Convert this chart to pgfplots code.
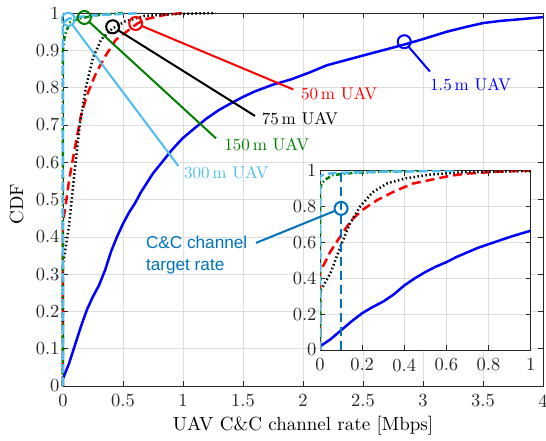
\documentclass[border=0pt]{standalone}
\usepackage{fontspec}
\setmainfont{lmroman10-regular.otf}
\usepackage{pgfplots}
\usepackage{pgfplotstable}
\pgfplotsset{compat=1.18}
\newfontfamily\sansf{Liberation Sans}

\definecolor{mgreen}{rgb}{0,0.5,0}
\definecolor{mcyan}{rgb}{0.301,0.745,0.933}
\definecolor{mblue}{rgb}{0,0.447,0.741}
\definecolor{gridc}{rgb}{0.87,0.87,0.87}
\definecolor{axc}{rgb}{0.15,0.15,0.15}

% CDF curves
\pgfplotstableread{
x y
0 0.02
0.05 0.06
0.1 0.11
0.15 0.16
0.2 0.205
0.25 0.24
0.3 0.27
0.35 0.31
0.4 0.36
0.45 0.40
0.5 0.435
0.55 0.465
0.6 0.49
0.65 0.52
0.7 0.545
0.75 0.57
0.8 0.59
0.85 0.61
0.9 0.63
0.95 0.648
1.0 0.665
1.1 0.692
1.2 0.718
1.3 0.74
1.4 0.758
1.5 0.775
1.6 0.79
1.75 0.808
1.9 0.822
2.05 0.84
2.2 0.86
2.35 0.873
2.5 0.886
2.7 0.903
2.85 0.916
3.0 0.93
3.2 0.95
3.35 0.962
3.5 0.973
3.65 0.979
3.8 0.983
3.9 0.986
4.0 0.989
}\uavA

\pgfplotstableread{
x y
0 0
0 0.44
0.02 0.48
0.05 0.55
0.1 0.64
0.15 0.725
0.2 0.78
0.27 0.835
0.35 0.883
0.44 0.928
0.55 0.955
0.62 0.972
0.7 0.984
0.85 0.995
1.0 1.0
}\uavB

\pgfplotstableread{
x y
0 0
0 0.33
0.01 0.345
0.05 0.43
0.1 0.585
0.14 0.70
0.19 0.80
0.25 0.88
0.32 0.93
0.41 0.958
0.52 0.978
0.68 0.992
0.9 0.997
1.27 1.0
}\uavC

\pgfplotstableread{
x y
0 0
0 0.9
0.01 0.93
0.025 0.95
0.06 0.975
0.13 0.985
0.18 0.988
0.3 0.995
0.5 1.0
}\uavD

\pgfplotstableread{
x y
0 0
0 0.97
0.02 0.979
0.05 0.985
0.15 0.99
0.3 0.995
0.6 0.999
0.65 1.0
}\uavE

\pgfplotsset{
  mat/.style={
    scale only axis,
    axis line style={axc, line width=0.6pt},
    tick style={axc, line width=0.6pt},
    tick align=inside,
    major tick length=5pt,
    grid=major,
    major grid style={gridc, line width=0.6pt},
    ticklabel style={font=\fontsize{18.5}{22}\selectfont, text=axc},
    xticklabel style={yshift=-5pt},
    /pgf/number format/assume math mode=true,
  },
  cA/.style={blue, line width=2.5pt},
  cB/.style={red, line width=2.5pt, dash pattern=on 9pt off 5pt},
  cC/.style={black, line width=2.5pt, dash pattern=on 1.5pt off 2.5pt},
  cD/.style={mgreen, line width=2.5pt, dash pattern=on 5pt off 2.5pt on 1.5pt off 2.5pt},
  cE/.style={mcyan, line width=2.5pt, dash pattern=on 9pt off 4pt},
}

\begin{document}
\begin{tikzpicture}
\useasboundingbox (-63pt,-54pt) rectangle (483pt,386pt);
\begin{axis}[
  mat,
  width=480pt, height=373pt,
  xmin=0, xmax=4, ymin=0, ymax=1,
  xtick={0,0.5,...,4},
  ytick={0,0.1,...,1},
  xlabel={UAV C\&C channel rate [Mbps]},
  ylabel={CDF},
  label style={font=\fontsize{19}{22}\selectfont},
  xlabel style={at={(axis description cs:0.5,-0.107)}, anchor=center},
  ylabel style={at={(axis description cs:-0.0965,0.488)}, anchor=center},
  clip=false,
]
\addplot[cA] table {\uavA};
\addplot[cB] table {\uavB};
\addplot[cC] table {\uavC};
\addplot[cD] table {\uavD};
\addplot[cE] table {\uavE};

% annotations
\addplot[red, only marks, mark=o, mark size=6.5pt, mark options={line width=2pt, solid}] coordinates {(0.606,0.972)};
\addplot[black, only marks, mark=o, mark size=6.5pt, mark options={line width=2pt, solid}] coordinates {(0.414,0.963)};
\addplot[mgreen, only marks, mark=o, mark size=6.5pt, mark options={line width=2pt, solid}] coordinates {(0.178,0.988)};
\addplot[mcyan, only marks, mark=o, mark size=6.5pt, mark options={line width=2pt, solid}] coordinates {(0.044,0.983)};
\addplot[blue, only marks, mark=o, mark size=6.5pt, mark options={line width=2pt, solid}] coordinates {(2.844,0.923)};
\draw[red, line width=2pt, shorten <=6.5pt] (axis cs:0.606,0.972) -- (axis cs:1.919,0.795);
\draw[black, line width=2pt, shorten <=6.5pt] (axis cs:0.414,0.963) -- (axis cs:1.6,0.724);
\draw[mgreen, line width=2pt, shorten <=6.5pt] (axis cs:0.178,0.988) -- (axis cs:1.275,0.664);
\draw[mcyan, line width=2pt, shorten <=6.5pt] (axis cs:0.044,0.983) -- (axis cs:0.961,0.590);
\draw[blue, line width=2pt, shorten <=6.5pt] (axis cs:2.844,0.923) -- (axis cs:3.058,0.843);
\begin{scope}[every node/.style={font=\fontsize{17}{20}\selectfont, anchor=west, inner sep=0pt}]
\node[text=red] at (axis cs:1.983,0.783) {50\,m UAV};
\node[text=black] at (axis cs:1.656,0.718) {75\,m UAV};
\node[text=mgreen] at (axis cs:1.344,0.646) {150\,m UAV};
\node[text=mcyan] at (axis cs:1.008,0.572) {300\,m UAV};
\node[text=blue] at (axis cs:3.058,0.807) {1.5\,m UAV};
\end{scope}
\node[font=\sansf\fontsize{17.2}{21.5}\selectfont, text=mblue, align=left, anchor=north west, inner sep=0pt]
  at (axis cs:0.69,0.402) {C\&C channel\\target rate};
\end{axis}

\begin{axis}[
  mat,
  at={(257pt,36pt)}, anchor=south west,
  width=210.7pt, height=179.3pt,
  xmin=0, xmax=1, ymin=0, ymax=1,
  xtick={0,0.2,...,1},
  ytick={0,0.2,...,1},
  axis background/.style={fill=white},
]
\addplot[cA] table {\uavA};
\addplot[cB] table {\uavB};
\addplot[cC] table {\uavC};
\addplot[cD] table {\uavD};
\addplot[cE] table {\uavE};
\addplot[mblue, line width=2.5pt, dash pattern=on 9pt off 5pt] coordinates {(0.1,0) (0.1,1)};
\end{axis}
\begin{axis}[
  at={(257pt,36pt)}, anchor=south west,
  width=210.7pt, height=179.3pt, scale only axis,
  xmin=0, xmax=1, ymin=0, ymax=1,
  hide axis, clip=false,
]
\addplot[mblue, only marks, mark=o, mark size=6.5pt, mark options={line width=2pt, solid}] coordinates {(0.1,0.79)};
\draw[mblue, line width=2pt, shorten <=6.5pt] (axis cs:0.1,0.79) -- (axis cs:-0.304,0.597);
\end{axis}
\end{tikzpicture}
\end{document}
